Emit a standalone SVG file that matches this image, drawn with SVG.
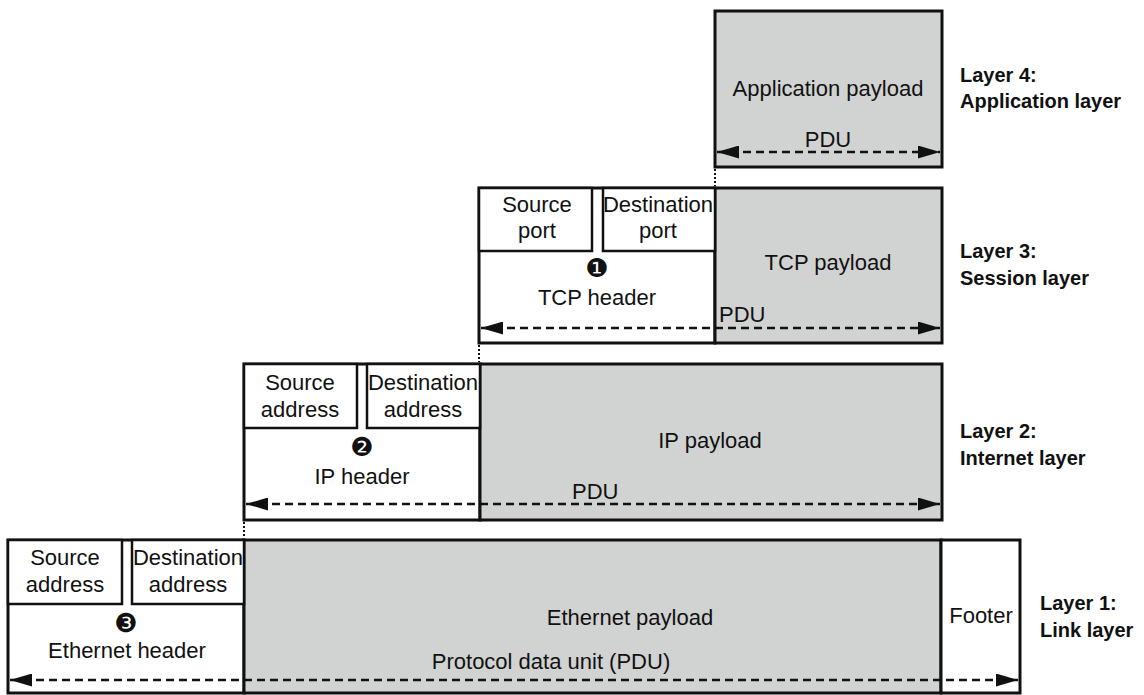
<svg xmlns="http://www.w3.org/2000/svg" width="1144" height="695" viewBox="0 0 1144 695">
<style>
.bg{fill:#ffffff}
.pay{fill:#d1d3d2;stroke:#111;stroke-width:3}
.hdr{fill:#ffffff;stroke:#111;stroke-width:3}
.fld{fill:#ffffff;stroke:#111;stroke-width:2.5}
.t{font-family:"Liberation Sans",Arial,sans-serif;font-size:22px;fill:#111;text-anchor:middle}
.ts{font-family:"Liberation Sans",Arial,sans-serif;font-size:22px;fill:#111}
.lbl{font-family:"Liberation Sans",Arial,sans-serif;font-size:20px;font-weight:bold;fill:#111}
.num{font-family:"DejaVu Sans",sans-serif;font-size:26px;fill:#111;text-anchor:middle}
.pdu{stroke:#111;stroke-width:2.5;stroke-dasharray:8 5;fill:none;marker-start:url(#ah);marker-end:url(#ah)}
.dot{stroke:#111;stroke-width:2;stroke-dasharray:2 2;fill:none}
</style>
<defs>
<marker id="ah" viewBox="0 0 22 13" refX="22" refY="6.5" markerWidth="22" markerHeight="13" markerUnits="userSpaceOnUse" orient="auto-start-reverse">
<path d="M0,0 L22,6.5 L0,13 z" fill="#111"/>
</marker>
</defs>
<rect class="bg" x="0" y="0" width="1144" height="695"/>

<g id="layer4">
<rect class="pay" x="715" y="11" width="227" height="156"/>
<text class="t" x="828" y="96">Application payload</text>
<text class="t" x="828" y="147">PDU</text>
<text class="lbl" x="960" y="82">Layer 4:</text>
<text class="lbl" x="960" y="108">Application layer</text>
</g>

<g id="layer3">
<rect class="hdr" x="479" y="188" width="236" height="155"/>
<rect class="pay" x="715" y="188" width="227" height="155"/>
<rect class="fld" x="479" y="188" width="113" height="63"/>
<rect class="fld" x="603" y="188" width="112" height="63"/>
<text class="t" x="537" y="212">Source</text>
<text class="t" x="537" y="238">port</text>
<text class="t" x="658" y="212">Destination</text>
<text class="t" x="658" y="238">port</text>
<text class="num" x="597" y="277">❶</text>
<text class="t" x="597" y="305">TCP header</text>
<text class="t" x="828" y="270">TCP payload</text>
<text class="ts" x="719" y="322">PDU</text>
<text class="lbl" x="960" y="258">Layer 3:</text>
<text class="lbl" x="960" y="285">Session layer</text>
</g>

<g id="layer2">
<rect class="hdr" x="244" y="364" width="236" height="156"/>
<rect class="pay" x="480" y="364" width="462" height="156"/>
<rect class="fld" x="244" y="364" width="113" height="64"/>
<rect class="fld" x="367" y="364" width="113" height="64"/>
<text class="t" x="300" y="390">Source</text>
<text class="t" x="300" y="417">address</text>
<text class="t" x="423" y="390">Destination</text>
<text class="t" x="423" y="417">address</text>
<text class="num" x="362" y="456">❷</text>
<text class="t" x="362" y="484">IP header</text>
<text class="t" x="710" y="448">IP payload</text>
<text class="ts" x="572" y="499">PDU</text>
<text class="lbl" x="960" y="438">Layer 2:</text>
<text class="lbl" x="960" y="465">Internet layer</text>
</g>

<g id="layer1">
<rect class="hdr" x="8" y="540" width="236" height="153"/>
<rect class="pay" x="244" y="540" width="697" height="153"/>
<rect class="hdr" x="941" y="540" width="79" height="153"/>
<rect class="fld" x="8" y="540" width="114" height="64"/>
<rect class="fld" x="132" y="540" width="112" height="64"/>
<text class="t" x="65" y="565">Source</text>
<text class="t" x="65" y="592">address</text>
<text class="t" x="188" y="565">Destination</text>
<text class="t" x="188" y="592">address</text>
<text class="num" x="126" y="632">❸</text>
<text class="t" x="127" y="658">Ethernet header</text>
<text class="t" x="630" y="625">Ethernet payload</text>
<text class="t" x="551" y="669">Protocol data unit (PDU)</text>
<text class="t" x="981" y="623">Footer</text>
<text class="lbl" x="1040" y="610">Layer 1:</text>
<text class="lbl" x="1040" y="637">Link layer</text>
</g>

<g id="connectors">
<line class="pdu" x1="717" y1="152" x2="940" y2="152"/>
<line class="pdu" x1="481" y1="328" x2="940" y2="328"/>
<line class="pdu" x1="246" y1="504" x2="940" y2="504"/>
<line class="pdu" x1="10" y1="680" x2="1018" y2="680"/>
<line class="dot" x1="715" y1="169" x2="715" y2="186"/>
<line class="dot" x1="479" y1="345" x2="479" y2="362"/>
<line class="dot" x1="244" y1="522" x2="244" y2="538"/>
</g>
</svg>
